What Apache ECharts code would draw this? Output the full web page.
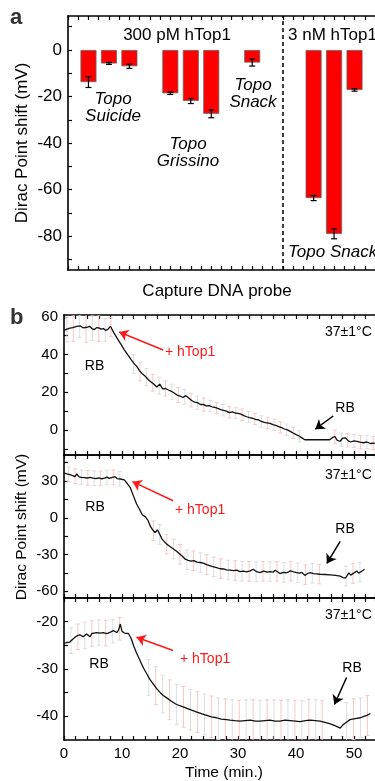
<!DOCTYPE html>
<html>
<head>
<meta charset="utf-8">
<script src="https://cdn.jsdelivr.net/npm/echarts@6/dist/echarts.min.js"></script>
<title>Dirac point shift</title>
<style>
  * { margin: 0; padding: 0; }
  html, body { width: 375px; height: 781px; background: #fff; overflow: hidden; }
  #chart { width: 375px; height: 781px; }
</style>
</head>
<body>
<div id="chart"></div>
<script>
// ---- panel a : bars ----
var probeSlot = [1, 2, 3, 5, 6, 7, 9, 12, 13, 14];
var shiftMean = [-13.8, -5.8, -7.0, -18.6, -21.9, -27.4, -5.4, -63.6, -79.0, -17.2];
var shiftErr = [2.3, 0.4, 0.9, 0.5, 1.1, 1.7, 1.5, 1.1, 2.1, 0.5];
var dividerAt = 10.5;
var aTickVals = [10, 0, -10, -20, -30, -40, -50, -60, -70, -80, -90];
var aLabelVals = [0, -20, -40, -60, -80];

// ---- panel b : time traces [min, mV] ----
var run1 = [[0,52.8],[0.5,53.5],[1.0,54],[1.5,54.3],[2.2,55],[2.8,55.2],[3.3,54.2],[3.6,53.5],[4.0,54.5],[4.4,55],[4.8,53.8],[5.2,53.2],[5.6,54.3],[6.0,54.2],[6.4,53.5],[6.8,53.8],[7.2,52.8],[7.6,53.5],[8.0,55],[8.6,51.5],[9.2,48.5],[9.8,45.5],[10.4,42.5],[11.0,39.8],[11.6,37.2],[12.2,34.8],[12.6,33.5],[13.0,31.5],[13.5,29.8],[14.0,28.5],[14.5,26.8],[15.0,25.5],[15.5,24.2],[16.0,22.8],[16.5,24.3],[17.0,21.8],[17.5,22.0],[18.0,21.2],[18.5,20.5],[19.0,19.6],[19.5,18.5],[20.0,18.0],[20.5,17.2],[21.0,18.2],[21.5,17.0],[22.0,15.6],[22.5,14.8],[23.0,14.5],[23.5,13.5],[24.0,13.6],[24.5,12.8],[25.0,12.9],[25.5,12.3],[26.0,12.0],[26.5,11.4],[27.0,10.8],[27.5,10.4],[28.0,10.0],[28.5,9.2],[29.0,9.6],[29.5,9.0],[30.0,8.8],[30.5,8.4],[31.0,7.6],[31.5,7.0],[32.0,6.5],[32.5,6.2],[33.0,5.6],[33.5,5.4],[34.0,4.5],[34.5,4.0],[35.0,3.8],[35.5,3.5],[36.0,2.8],[36.5,2.4],[37.0,1.8],[37.5,1.2],[38.0,0.5],[38.5,0.0],[39.0,-0.8],[39.5,-1.6],[40.0,-2.5],[40.5,-3.2],[41.0,-4.2],[41.5,-5.2],[45.8,-5.2],[46.3,-4.0],[46.7,-3.6],[47.1,-5.5],[47.6,-6.0],[48.0,-4.4],[48.5,-4.2],[49.0,-5.8],[49.4,-6.4],[50.0,-5.8],[50.5,-6.1],[51.0,-6.5],[51.6,-6.8],[52.2,-6.4],[52.8,-7.2],[53.6,-7.0]];
var run1Err = [[0.5,53.2,6.5],[1.6,54,7],[2.7,55,6],[3.8,54,7.5],[4.9,54,6.5],[6.0,54,7],[7.1,53,6],[8.1,54.5,5],[12.0,35,5],[13.1,31,5],[14.2,28,4.5],[15.3,25,4.5],[16.4,23.5,4.5],[17.5,22,4],[18.6,20.3,4],[19.7,18.5,4],[20.8,17.6,4],[21.9,15.8,3.5],[23.0,14.5,3.5],[24.1,13.5,3.5],[25.2,12.7,3],[26.3,11.6,3],[27.4,10.5,3],[28.5,9.3,3],[29.6,9.0,3],[30.7,8.1,3],[31.8,6.8,3],[32.9,5.8,3],[34.0,4.5,3],[35.1,3.7,3],[36.2,2.7,3],[37.3,1.4,3],[38.4,0.1,3],[39.5,-1.6,3],[40.6,-3.4,3],[46.7,-3.6,3.5],[47.8,-5.2,3.5],[48.9,-5.5,3.5],[50.0,-5.8,3.5],[51.1,-6.5,3.5],[52.2,-6.4,3.5],[53.3,-7.0,3.5]];

var run2 = [[0,36.5],[0.5,35.8],[1.0,35.2],[1.5,34.5],[1.9,33.6],[2.2,35.8],[2.6,33.5],[3.0,33.0],[3.5,32.8],[4.0,32.5],[4.5,33.0],[5.0,32.4],[5.5,32.0],[6.0,32.6],[6.5,31.9],[7.0,32.5],[7.4,33.2],[7.8,32.2],[8.2,32.8],[8.8,33.6],[9.2,32.0],[9.7,31.7],[10.4,31.0],[10.9,28.0],[11.4,24.9],[12.0,17.5],[12.5,11.5],[13.0,7.0],[13.5,2.5],[14.0,1.0],[14.5,-2.4],[14.9,-7],[15.3,-10],[15.7,-12],[16.1,-9.8],[16.5,-13.5],[16.9,-17.4],[17.3,-19.5],[17.7,-21.5],[18.2,-23.2],[18.8,-25.2],[19.4,-27.4],[20.0,-29.7],[20.5,-31.8],[20.9,-33.8],[21.4,-34.8],[21.9,-35.4],[22.4,-35.0],[22.9,-36.2],[23.5,-36.5],[24.0,-37.0],[24.6,-38.2],[25.2,-39.3],[25.8,-40.0],[26.3,-40.6],[26.9,-41.6],[27.5,-41.8],[28.0,-42.5],[28.6,-42.8],[29.2,-43.2],[29.8,-42.8],[30.3,-43.9],[30.9,-43.5],[31.5,-44.2],[32.1,-43.3],[32.6,-42.0],[33.2,-44.0],[33.8,-44.7],[34.4,-43.6],[35.0,-44.3],[35.5,-43.9],[36.0,-44.4],[36.4,-42.8],[36.8,-44.0],[37.2,-45.5],[37.8,-44.5],[38.4,-44.9],[39.0,-43.3],[39.6,-44.2],[40.1,-44.7],[40.6,-45.2],[41.0,-44.6],[41.5,-47.0],[42.0,-45.5],[42.4,-44.7],[43.0,-45.6],[43.5,-45.8],[44.1,-46.1],[45.0,-46.3],[45.9,-46.6],[46.8,-47.0],[47.6,-47.7],[48.1,-48.8],[48.5,-49.3],[48.8,-47.2],[49.1,-44.9],[49.4,-46.8],[49.6,-47.4],[50.0,-45.0],[50.5,-43.5],[50.8,-45.2],[51.1,-44.7],[51.5,-43.0],[51.8,-42.0]];
var run2Err = [[0.8,35.5,6],[1.9,34,6],[3.0,33,6],[4.1,32.6,6],[5.2,32.3,6],[6.3,32.2,6],[7.4,33,6],[8.5,33,6],[9.6,31.8,6],[15.4,-10.5,8],[16.5,-13.5,8],[17.7,-21.5,8],[18.9,-25.5,8],[20.0,-29.7,8],[21.2,-34.3,8],[22.3,-35.1,8],[23.5,-36.5,8],[24.6,-38.2,8],[25.8,-40,8],[27.0,-41.6,8],[28.3,-42.7,8],[29.5,-43,8],[30.7,-43.6,8],[31.9,-43.8,8],[33.1,-44,8],[34.3,-43.8,8],[35.5,-43.9,8],[36.7,-43.8,8],[37.9,-44.6,8],[39.1,-43.5,8],[40.3,-44.9,8],[41.6,-46.5,8],[42.8,-45.3,8],[44.0,-46,8],[48.6,-47.5,8],[49.8,-45.5,8],[51.0,-44.3,8]];

var run3 = [[0,-24.6],[0.5,-24.4],[1.0,-24.3],[1.3,-24.0],[1.6,-23.6],[2.0,-23.2],[2.4,-22.9],[2.8,-22.8],[3.3,-23.2],[3.6,-22.9],[3.9,-22.6],[4.2,-22.7],[4.5,-23.2],[4.8,-22.5],[5.2,-22.4],[5.6,-22.3],[6.2,-22.4],[6.8,-22.3],[7.2,-22.5],[7.6,-22.4],[8.0,-22.2],[8.5,-21.9],[8.8,-22.2],[9.1,-22.3],[9.4,-21.8],[9.7,-20.5],[10.0,-22.0],[10.4,-22.4],[11.1,-22.5],[11.6,-23.6],[12.0,-25.1],[12.5,-26.6],[13.1,-28.2],[13.7,-29.8],[14.3,-31.1],[14.8,-32.2],[15.4,-33.2],[16.0,-34.2],[16.6,-35.0],[17.1,-35.6],[17.7,-36.1],[18.5,-36.8],[19.4,-37.5],[20.3,-37.9],[21.2,-38.3],[22.0,-38.7],[22.9,-39.1],[23.8,-39.5],[24.6,-39.8],[25.4,-40.1],[26.3,-40.3],[27.1,-40.6],[28.0,-40.7],[28.6,-40.8],[29.4,-40.9],[30.3,-41.0],[31.2,-40.9],[32.1,-40.8],[33.0,-41.0],[33.8,-41.0],[34.6,-40.9],[35.5,-40.8],[36.4,-41.0],[37.2,-41.0],[38.1,-40.8],[39.0,-40.9],[39.9,-41.0],[40.7,-41.1],[41.6,-40.9],[42.4,-40.8],[43.3,-40.9],[44.1,-41.0],[45.0,-41.3],[45.9,-41.6],[46.8,-42.0],[47.6,-42.5],[48.0,-41.9],[48.5,-41.4],[49.3,-40.7],[50.2,-40.5],[51.1,-40.3],[51.7,-40.0],[52.2,-39.8],[52.8,-39.4]];
var run3Err = [[1.2,-24,2.7],[2.4,-23.2,2.7],[3.6,-22.9,2.8],[4.8,-22.5,2.7],[6.0,-22.3,2.7],[7.2,-22.4,2.7],[8.4,-22,2.5],[9.6,-21.5,2.4],[14.6,-31.8,3.8],[15.8,-33.5,4],[17.0,-35.3,4],[18.2,-36.5,4.2],[19.4,-37.5,4.2],[20.6,-38,4.3],[21.8,-38.6,4.3],[23.0,-39.1,4.3],[24.2,-39.6,4.3],[25.4,-40.1,4.4],[26.6,-40.5,4.4],[27.8,-40.7,4.4],[29.0,-40.9,4.4],[30.2,-41,4.4],[31.4,-40.9,4.4],[32.6,-40.9,4.4],[33.8,-41,4.4],[35.0,-40.9,4.4],[36.2,-40.9,4.4],[37.4,-41,4.4],[38.6,-40.9,4.4],[39.8,-41,4.4],[41.0,-41.1,4.4],[42.2,-40.8,4.4],[43.4,-40.9,4.4],[44.5,-41.1,4.4],[48.7,-41.5,4.4],[49.9,-40.6,4.3],[51.1,-40.3,4.2],[52.3,-39.8,4.2]];

var timeTicks = [0,2,4,6,8,10,12,14,16,18,20,22,24,26,28,30,32,34,36,38,40,42,44,46,48,50,52];
var timeLabels = [0, 10, 20, 30, 40, 50];
var b1Ticks = [60, 50, 40, 30, 20, 10, 0, -10], b1Labels = [0, 20, 40, 60];
var b2Ticks = [45, 30, 15, 0, -15, -30, -45, -60], b2Labels = [-60, -30, 0, 30];
var b3Ticks = [-20, -25, -30, -35, -40], b3Labels = [-40, -30, -20];

// arrows: [from, to] in data coords
var addArrows = [[[17.1, 42.4], [9.5, 52]], [[18.8, 13.9], [11.8, 29.5]], [[18.8, -26.1], [12.5, -23.3]]];
var rbArrows = [[[46.4, 7.4], [43.3, 0.4]], [[47.6, -19.3], [45.3, -37.3]], [[48.7, -31.8], [46.6, -37.5]]];

var FONT = "'Liberation Sans', Arial, sans-serif";
var chart = echarts.init(document.getElementById('chart'));

function errorBars(data, xi, yi, cap, colours, width) {
  return {
    type: 'custom', xAxisIndex: xi, yAxisIndex: yi, clip: true, silent: true, z: 2,
    data: data,
    encode: { x: 0, y: 1 },
    renderItem: function (params, api) {
      var x = api.value(0), m = api.value(1), e = api.value(2);
      var hi = api.coord([x, m + e]), lo = api.coord([x, m - e]);
      var st = { stroke: colours[params.dataIndex % colours.length], lineWidth: width };
      return { type: 'group', children: [
        { type: 'line', shape: { x1: hi[0], y1: hi[1], x2: lo[0], y2: lo[1] }, style: st },
        { type: 'line', shape: { x1: hi[0] - cap, y1: hi[1], x2: hi[0] + cap, y2: hi[1] }, style: st },
        { type: 'line', shape: { x1: lo[0] - cap, y1: lo[1], x2: lo[0] + cap, y2: lo[1] }, style: st }
      ]};
    }
  };
}

function xAx(grid, pos, min, max, interval, extra) {
  var o = {
    type: 'value', gridIndex: grid, position: pos, min: min, max: max, interval: interval,
    axisLine: { show: true, onZero: false, lineStyle: { color: '#000', width: 1.6 } },
    axisTick: { show: true, inside: true, length: 4, lineStyle: { color: '#000', width: 1.2 } },
    axisLabel: { show: false },
    splitLine: { show: false }
  };
  return Object.assign(o, extra || {});
}

function yAx(grid, min, max, ticks, labels, fs) {
  return {
    type: 'value', gridIndex: grid, min: min, max: max,
    axisLine: { show: true, onZero: false, lineStyle: { color: '#000', width: 1.6 } },
    axisTick: { show: true, inside: true, length: 4, customValues: ticks, lineStyle: { color: '#000', width: 1.2 } },
    axisLabel: { show: true, customValues: labels, color: '#000', fontSize: fs, fontFamily: FONT, margin: 6 },
    splitLine: { show: false }
  };
}

function arrowLine(pairs, colour) {
  return pairs.map(function (p) {
    return [{ coord: p[0], lineStyle: { color: colour, width: 1.5, type: 'solid' } }, { coord: p[1] }];
  });
}

function traceSeries(run, xi, yi, k) {
  return {
    type: 'line', xAxisIndex: xi, yAxisIndex: yi, data: run, showSymbol: false, z: 3,
    lineStyle: { color: '#111', width: 1.3 },
    markLine: {
      silent: true, symbol: ['none', 'arrow'], symbolSize: 9, label: { show: false },
      data: arrowLine([addArrows[k]], '#ff1a1a').concat(arrowLine([rbArrows[k]], '#000'))
    }
  };
}

function txt(x, y, s, opt) {
  opt = opt || {};
  return {
    type: 'text', x: x, y: y, rotation: opt.rot || 0, silent: true,
    style: {
      text: s, fill: opt.color || '#000', align: opt.align || 'center', verticalAlign: 'middle',
      font: (opt.style || 'normal') + ' ' + (opt.weight || 'normal') + ' ' + (opt.size || 15) + 'px ' + FONT,
      lineHeight: opt.lh || 17
    }
  };
}

var barData = probeSlot.map(function (s, i) { return [s, shiftMean[i]]; });
var barErr = probeSlot.map(function (s, i) { return [s, shiftMean[i], shiftErr[i]]; });
var pinkGrey = ['#dadada', '#f7c2c2'];

var option = {
  animation: false,
  grid: [
    { left: 68, top: 16, width: 307, height: 254 },
    { left: 64, top: 315, width: 311, height: 140 },
    { left: 64, top: 455, width: 311, height: 143 },
    { left: 64, top: 598, width: 311, height: 142 }
  ],
  xAxis: [
    xAx(0, 'bottom', 0, 15, 0.5),
    xAx(0, 'top', 0, 15, 0.5),
    xAx(1, 'bottom', 0, 53.6, 2),
    xAx(1, 'top', 0, 53.6, 2),
    xAx(2, 'bottom', 0, 53.6, 2),
    xAx(2, 'top', 0, 53.6, 2),
    xAx(3, 'bottom', 0, 53.6, 2, {
      axisTick: { show: true, inside: true, length: 4, customValues: timeTicks, lineStyle: { color: '#000', width: 1.2 } },
      axisLabel: { show: true, customValues: timeLabels, color: '#000', fontSize: 15, fontFamily: FONT, margin: 6 }
    }),
    xAx(3, 'top', 0, 53.6, 2)
  ],
  yAxis: [
    yAx(0, -94.5, 14.6, aTickVals, aLabelVals, 17),
    yAx(1, -13.3, 61, b1Ticks, b1Labels, 15),
    yAx(2, -65.5, 51.3, b2Ticks, b2Labels, 15),
    yAx(3, -45, -15, b3Ticks, b3Labels, 15)
  ],
  series: [
    {
      type: 'bar', xAxisIndex: 0, yAxisIndex: 0, data: barData, barWidth: 16, z: 2,
      itemStyle: { color: '#ff0000', borderColor: '#666', borderWidth: 0.8 },
      markLine: {
        silent: true, symbol: 'none', label: { show: false },
        lineStyle: { color: '#000', type: [4, 3], width: 1.5 },
        data: [{ xAxis: dividerAt }]
      }
    },
    Object.assign(errorBars(barErr, 0, 0, 3, ['#000'], 1.2), { z: 4 }),
    errorBars(run1Err, 2, 1, 2, pinkGrey, 0.9),
    errorBars(run2Err, 4, 2, 2, pinkGrey, 0.9),
    errorBars(run3Err, 6, 3, 2, pinkGrey, 0.9),
    traceSeries(run1, 2, 1, 0),
    traceSeries(run2, 4, 2, 1),
    traceSeries(run3, 6, 3, 2)
  ],
  graphic: [
    txt(10, 18, 'a', { align: 'left', weight: 'bold', size: 22, color: '#333' }),
    txt(177, 35, '300 pM hTop1', { size: 17 }),
    txt(288, 35, '3 nM hTop1', { size: 17, align: 'left' }),
    txt(113, 108, 'Topo\nSuicide', { size: 17, style: 'italic' }),
    txt(188, 153, 'Topo\nGrissino', { size: 17, style: 'italic' }),
    txt(253, 94, 'Topo\nSnack', { size: 17, style: 'italic' }),
    txt(288, 252, 'Topo Snack', { size: 17, style: 'italic', align: 'left' }),
    txt(22, 143, 'Dirac Point shift (mV)', { size: 17, rot: Math.PI / 2 }),
    txt(217, 291, 'Capture DNA probe', { size: 17 }),

    txt(10, 318, 'b', { align: 'left', weight: 'bold', size: 22, color: '#333' }),
    txt(22, 527, 'Dirac Point shift (mV)', { size: 15.5, rot: Math.PI / 2 }),
    txt(224, 773, 'Time (min.)', { size: 15.5 }),
    txt(325, 332, '37\u00b11\u00b0C', { size: 14, align: 'left' }),
    txt(325, 475, '37\u00b11\u00b0C', { size: 14, align: 'left' }),
    txt(325, 615, '37\u00b11\u00b0C', { size: 14, align: 'left' }),
    txt(94.5, 366, 'RB', { size: 14 }),
    txt(345, 408, 'RB', { size: 14 }),
    txt(95, 507, 'RB', { size: 14 }),
    txt(345, 529, 'RB', { size: 14 }),
    txt(99, 664, 'RB', { size: 14 }),
    txt(352, 668, 'RB', { size: 14 }),
    txt(165, 352, '+ hTop1', { size: 14, align: 'left', color: '#ff1a1a' }),
    txt(175, 510, '+ hTop1', { size: 14, align: 'left', color: '#ff1a1a' }),
    txt(180, 659, '+ hTop1', { size: 14, align: 'left', color: '#ff1a1a' })
  ]
};
chart.setOption(option);
</script>
</body>
</html>
